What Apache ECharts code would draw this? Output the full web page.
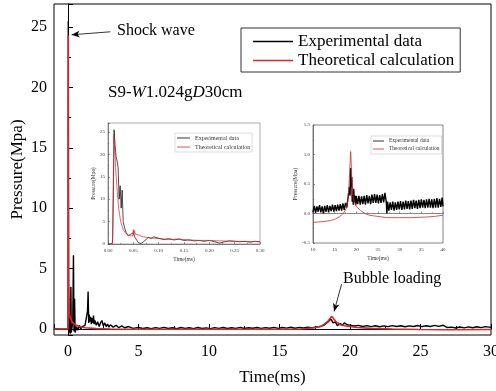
<!DOCTYPE html>
<html>
<head>
<meta charset="utf-8">
<script src="https://cdn.jsdelivr.net/npm/echarts@6/dist/echarts.min.js"></script>
<style>
  html, body { margin: 0; padding: 0; background: #fff; }
  #chart { width: 496px; height: 391px; }
</style>
</head>
<body>
<div id="chart"></div>
<script>
const seriesNames = ["Experimental data", "Theoretical calculation"];

// main plot, 0 - 30 ms
const expMain = [
  [-1, 0.02], [-0.5, -0.02], [0, 0], [0.008, 0.1], [0.012, 25.5], [0.018, 18], [0.025, 12],
  [0.035, 3], [0.05, 2], [0.065, -0.3], [0.1, 0.8], [0.15, -0.4], [0.2, 3.5], [0.22, -0.3],
  [0.28, -0.4], [0.33, 0.5], [0.38, 6.1], [0.42, -0.2], [0.46, 2.5], [0.5, -0.3], [0.6, 0.2],
  [0.7, -0.1], [0.8, 0.3], [0.9, 0.0], [1.0, 0.2], [1.1, 0.1], [1.2, 0.3], [1.3, 0.2],
  [1.38, 1.5], [1.42, 3.1], [1.46, 0.5], [1.5, 1.2], [1.55, 0.6], [1.6, 1.0], [1.65, 0.4],
  [1.7, 0.9], [1.75, 0.5], [1.8, 1.1], [1.85, 0.4], [1.9, 0.7], [2.0, 0.3], [2.1, 0.6],
  [2.2, 0.2], [2.3, 0.5], [2.4, 0.7], [2.5, 0.25], [2.6, 0.5], [2.7, 0.2], [2.8, 0.4],
  [2.9, 0.15], [3.0, 0.35], [3.2, 0.15], [3.4, 0.3], [3.6, 0.1], [3.8, 0.25], [4.0, 0.1],
  [4.3, 0.2], [4.6, 0.05], [5.0, 0.12], [5.3, 0.04], [5.6, 0.1], [5.9, 0.03], [6.2, 0.11],
  [6.5, 0.05], [6.8, 0.13], [7.1, 0.04], [7.4, 0.1], [7.7, 0.02], [8.0, 0.12], [8.3, 0.05],
  [8.6, 0.1], [8.9, 0.03], [9.2, 0.12], [9.5, 0.04], [9.8, 0.09], [10.1, 0.03], [10.4, 0.11],
  [10.7, 0.05], [11.0, 0.12], [11.3, 0.04], [11.6, 0.1], [11.9, 0.05], [12.2, 0.13],
  [12.5, 0.04], [12.8, 0.1], [13.1, 0.06], [13.4, 0.12], [13.7, 0.05], [14.0, 0.11],
  [14.3, 0.06], [14.6, 0.13], [14.9, 0.05], [15.2, 0.12], [15.5, 0.07], [15.8, 0.14],
  [16.1, 0.06], [16.4, 0.13], [16.7, 0.08], [17.0, 0.15], [17.3, 0.09], [17.6, 0.16],
  [17.9, 0.2], [18.2, 0.35], [18.45, 0.6], [18.65, 0.82], [18.8, 0.5], [18.95, 0.58],
  [19.1, 0.28], [19.3, 0.45], [19.45, 0.32], [19.6, 0.5], [19.8, 0.35], [20.0, 0.32],
  [20.3, 0.25], [20.6, 0.3], [20.9, 0.2], [21.2, 0.28], [21.5, 0.19], [21.8, 0.27],
  [22.1, 0.18], [22.4, 0.26], [22.7, 0.19], [23.0, 0.28], [23.3, 0.2], [23.6, 0.27],
  [23.9, 0.18], [24.2, 0.26], [24.5, 0.2], [24.8, 0.29], [25.1, 0.19], [25.4, 0.27],
  [25.7, 0.2], [26.0, 0.3], [26.3, 0.21], [26.6, 0.31], [26.9, 0.12], [27.0, 0.02],
  [27.2, 0.15], [27.5, 0.08], [27.8, 0.16], [28.1, 0.09], [28.4, 0.17], [28.7, 0.1],
  [29.0, 0.18], [29.3, 0.11], [29.6, 0.19], [30, 0.13]
];
const theoMain = [
  [-1, 0], [0, 0], [0.008, 0], [0.012, 24.3], [0.02, 10], [0.03, 5.2], [0.04, 2.8],
  [0.05, 2.7], [0.052, 3.5], [0.055, 2.4], [0.07, 1.6], [0.1, 1.2], [0.15, 1.0], [0.2, 0.8],
  [0.3, 0.55], [0.5, 0.35], [0.8, 0.2], [1.2, 0.1], [2, 0.03], [3, 0], [5, -0.02],
  [8, -0.03], [12, -0.03], [15, -0.02], [16.5, 0.0], [17.5, 0.1], [18.0, 0.25], [18.4, 0.6],
  [18.7, 1.05], [19.0, 0.6], [19.3, 0.35], [19.8, 0.22], [20.5, 0.12], [21.5, 0.05],
  [23, 0.0], [25, -0.05], [27, -0.07], [30, -0.05]
];

// inset 1, 0 - 0.30 ms
const expEarly = [
  [0, 0], [0.005, 0], [0.009, 0.3], [0.0105, 10], [0.012, 25.5], [0.014, 22], [0.016, 19.5],
  [0.018, 18.5], [0.02, 17], [0.022, 10], [0.024, 13], [0.026, 8], [0.028, 12], [0.03, 5],
  [0.033, 3.5], [0.036, 2.5], [0.04, 1.8], [0.045, 2.2], [0.05, 2.5], [0.053, 1.5],
  [0.057, 0.8], [0.06, 0.3], [0.065, 0.1], [0.07, 0.5], [0.075, 1.0], [0.08, 1.5],
  [0.085, 1.2], [0.09, 1.6], [0.1, 1.3], [0.11, 1.0], [0.12, 1.2], [0.13, 0.9], [0.14, 1.1],
  [0.15, 0.8], [0.16, 0.9], [0.17, 0.7], [0.18, 0.8], [0.19, 0.6], [0.2, 0.8], [0.21, 0.5],
  [0.22, 0.2], [0.23, 0.5], [0.24, 0.7], [0.25, 0.6], [0.26, 0.5], [0.27, 0.6], [0.28, 0.4],
  [0.29, 0.6], [0.3, 0.5]
];
const theoEarly = [
  [0, 0], [0.009, 0], [0.0115, 24.5], [0.013, 22], [0.015, 17], [0.018, 12], [0.021, 8],
  [0.025, 5], [0.03, 3.2], [0.035, 2.4], [0.04, 2.0], [0.045, 1.8], [0.049, 1.8], [0.05, 3.2],
  [0.051, 2.0], [0.052, 3.0], [0.054, 2.2], [0.06, 2.0], [0.07, 1.6], [0.08, 1.4], [0.09, 1.3],
  [0.1, 1.2], [0.12, 1.0], [0.14, 1.1], [0.16, 0.9], [0.18, 0.8], [0.2, 0.8], [0.22, 0.7],
  [0.25, 0.6], [0.28, 0.55], [0.3, 0.5]
];

// inset 2, 10 - 40 ms
const expBubble = [
  [10.0, 0.02], [10.3, 0.13], [10.6, 0.01], [10.9, 0.12], [11.2, 0.03], [11.5, 0.14],
  [11.8, 0.02], [12.1, 0.12], [12.4, 0.0], [12.7, 0.13], [13.0, 0.03], [13.3, 0.14],
  [13.6, 0.02], [13.9, 0.13], [14.2, 0.04], [14.5, 0.15], [14.8, 0.03], [15.1, 0.14],
  [15.4, 0.04], [15.7, 0.15], [16.0, 0.05], [16.3, 0.16], [16.6, 0.05], [16.9, 0.17],
  [17.2, 0.06], [17.5, 0.18], [17.8, 0.1], [18.0, 0.22], [18.2, 0.2], [18.4, 0.45],
  [18.55, 0.3], [18.7, 0.77], [18.85, 0.45], [18.95, 0.62], [19.05, 0.2], [19.2, 0.38],
  [19.3, 0.15], [19.4, 0.42], [19.55, 0.2], [19.7, 0.3], [19.85, 0.14], [20.0, 0.3],
  [20.3, 0.16], [20.6, 0.3], [20.9, 0.15], [21.2, 0.29], [21.5, 0.16], [21.8, 0.3],
  [22.1, 0.15], [22.4, 0.31], [22.7, 0.17], [23.0, 0.3], [23.3, 0.16], [23.6, 0.32],
  [23.9, 0.18], [24.2, 0.33], [24.5, 0.18], [24.8, 0.32], [25.1, 0.17], [25.4, 0.31],
  [25.7, 0.18], [26.0, 0.33], [26.3, 0.19], [26.6, 0.35], [26.9, 0.2], [27.05, 0.0],
  [27.2, 0.2], [27.5, 0.05], [27.8, 0.19], [28.1, 0.06], [28.4, 0.2], [28.7, 0.05],
  [29.0, 0.19], [29.3, 0.06], [29.6, 0.2], [29.9, 0.07], [30.2, 0.21], [30.5, 0.06],
  [30.8, 0.2], [31.1, 0.07], [31.4, 0.22], [31.7, 0.08], [32.0, 0.21], [32.3, 0.07],
  [32.6, 0.22], [32.9, 0.08], [33.2, 0.23], [33.5, 0.09], [33.8, 0.22], [34.1, 0.08],
  [34.4, 0.23], [34.7, 0.09], [35.0, 0.24], [35.3, 0.1], [35.6, 0.23], [35.9, 0.09],
  [36.2, 0.24], [36.5, 0.1], [36.8, 0.25], [37.1, 0.1], [37.4, 0.24], [37.7, 0.09],
  [38.0, 0.25], [38.3, 0.1], [38.6, 0.26], [38.9, 0.1], [39.2, 0.25], [39.5, 0.11],
  [39.8, 0.27], [40.0, 0.12]
];
const theoBubble = [
  [10, -0.15], [12, -0.14], [14, -0.12], [15, -0.1], [16, -0.06], [17, 0.0], [17.6, 0.08],
  [18.0, 0.2], [18.3, 0.45], [18.55, 0.85], [18.7, 1.05], [18.85, 0.8], [19.0, 0.5],
  [19.2, 0.3], [19.5, 0.2], [20, 0.12], [21, 0.05], [22, 0.0], [23, -0.03], [25, -0.05],
  [27, -0.07], [30, -0.07], [33, -0.07], [36, -0.06], [38, -0.05], [40, -0.03]
];

const serif = '"Liberation Serif", "Times New Roman", serif';
const black = "#000";
const red = "#e3232b";

function insetAxis(grid, min, max, interval, digits, name, nameGap, isY) {
  return {
    type: "value",
    gridIndex: grid,
    min: min,
    max: max,
    interval: interval,
    name: name,
    nameLocation: "middle",
    nameGap: nameGap,
    nameTextStyle: { fontFamily: serif, fontSize: 5.5, color: "#333" },
    axisLine: { lineStyle: { color: "#555", width: 0.7 } },
    axisTick: { inside: true, length: 2, lineStyle: { color: "#555", width: 0.6 } },
    minorTick: { show: true, splitNumber: 2, length: 1.2, lineStyle: { color: "#555", width: 0.5 } },
    splitLine: { show: false },
    axisLabel: {
      fontFamily: serif,
      fontSize: 5,
      color: "#333",
      margin: isY ? 3 : 4,
      showMaxLabel: isY ? interval * Math.round(max / interval) === max : true,
      formatter: (v) => v.toFixed(digits),
    },
  };
}

const chartDom = echarts.init(document.getElementById("chart"));
chartDom.setOption({
  animation: false,
  grid: [
    { left: 54, top: 4, right: 5, bottom: 56, outerBoundsMode: "none", show: true, borderColor: black, borderWidth: 1 },
    { left: 108, top: 123, width: 152, height: 121, outerBoundsMode: "none", show: true, borderColor: "#888", borderWidth: 0.7, backgroundColor: "#fff" },
    { left: 313, top: 125, width: 130, height: 118, outerBoundsMode: "none", show: true, borderColor: "#666", borderWidth: 0.8, backgroundColor: "#fff" },
  ],
  legend: [
    {
      data: seriesNames,
      orient: "vertical",
      left: 241,
      top: 28,
      icon: "rect",
      itemWidth: 40,
      itemHeight: 1.5,
      itemGap: 2,
      padding: [5, 6, 3, 12],
      borderColor: "#333",
      borderWidth: 1,
      textStyle: { fontFamily: serif, fontSize: 17, color: black },
    },
    {
      data: seriesNames,
      orient: "vertical",
      left: 175,
      top: 133,
      icon: "rect",
      itemWidth: 13,
      itemHeight: 0.8,
      itemGap: 3,
      padding: [2, 2, 2, 2],
      borderColor: "#bbb",
      borderWidth: 0.5,
      textStyle: { fontFamily: serif, fontSize: 6, color: "#333" },
    },
    {
      data: seriesNames,
      orient: "vertical",
      left: 371,
      top: 136,
      icon: "rect",
      itemWidth: 11,
      itemHeight: 0.8,
      itemGap: 2,
      padding: [2, 2, 2, 2],
      borderColor: "#bbb",
      borderWidth: 0.5,
      textStyle: { fontFamily: serif, fontSize: 5.5, color: "#333" },
    },
  ],
  xAxis: [
    {
      type: "value",
      gridIndex: 0,
      min: -1,
      max: 30,
      name: "Time(ms)",
      nameLocation: "middle",
      nameGap: 34,
      nameTextStyle: { fontFamily: serif, fontSize: 17, color: black },
      axisLine: { lineStyle: { color: black, width: 1 } },
      axisTick: { inside: true, length: 5, lineStyle: { color: black } },
      minorTick: { show: true, splitNumber: 2, length: 3, lineStyle: { color: black } },
      splitLine: { show: false },
      axisLabel: { fontFamily: serif, fontSize: 16, color: black, margin: 9, showMinLabel: false },
    },
    insetAxis(1, 0, 0.3, 0.05, 2, "Time(ms)", 13, false),
    insetAxis(2, 10, 40, 5, 0, "Time(ms)", 13, false),
  ],
  yAxis: [
    {
      type: "value",
      gridIndex: 0,
      min: -0.5,
      max: 26.9,
      name: "Pressure(Mpa)",
      nameLocation: "middle",
      nameGap: 28,
      nameMoveOverlap: false,
      nameTextStyle: { fontFamily: serif, fontSize: 17, color: black },
      axisLine: { lineStyle: { color: black, width: 1 } },
      axisTick: { inside: true, length: 5, lineStyle: { color: black } },
      minorTick: { show: true, splitNumber: 2, length: 3, lineStyle: { color: black } },
      splitLine: { show: false },
      axisLabel: { fontFamily: serif, fontSize: 16, color: black, margin: 7, showMinLabel: false, showMaxLabel: false },
    },
    insetAxis(1, 0, 27, 5, 0, "Pressure(Mpa)", 10, true),
    insetAxis(2, -0.5, 1.5, 0.5, 1, "Pressure(Mpa)", 14, true),
  ],
  series: [
    {
      name: seriesNames[0],
      type: "line",
      xAxisIndex: 0,
      yAxisIndex: 0,
      data: expMain,
      symbol: "none",
      itemStyle: { color: black },
      lineStyle: { color: black, width: 1.4 },
    },
    {
      name: seriesNames[1],
      type: "line",
      xAxisIndex: 0,
      yAxisIndex: 0,
      data: theoMain,
      symbol: "none",
      itemStyle: { color: red },
      lineStyle: { color: red, width: 1.6 },
      markLine: {
        silent: true,
        symbol: ["none", "arrow"],
        symbolSize: [5, 8],
        label: { show: false },
        lineStyle: { color: black, width: 0.8, type: "solid" },
        data: [
          [{ coord: [3.0, 24.6] }, { coord: [0.25, 24.35] }],
          [{ coord: [19.4, 3.7] }, { coord: [18.87, 1.45] }],
        ],
      },
    },
    {
      name: seriesNames[0],
      type: "line",
      xAxisIndex: 1,
      yAxisIndex: 1,
      data: expEarly,
      symbol: "none",
      itemStyle: { color: black },
      lineStyle: { color: black, width: 0.7 },
    },
    {
      name: seriesNames[1],
      type: "line",
      xAxisIndex: 1,
      yAxisIndex: 1,
      data: theoEarly,
      symbol: "none",
      itemStyle: { color: red },
      lineStyle: { color: red, width: 0.7 },
    },
    {
      name: seriesNames[0],
      type: "line",
      xAxisIndex: 2,
      yAxisIndex: 2,
      data: expBubble,
      symbol: "none",
      itemStyle: { color: black },
      lineStyle: { color: black, width: 1.4 },
    },
    {
      name: seriesNames[1],
      type: "line",
      xAxisIndex: 2,
      yAxisIndex: 2,
      data: theoBubble,
      symbol: "none",
      itemStyle: { color: red },
      lineStyle: { color: red, width: 0.8 },
    },
  ],
  graphic: [
    {
      type: "text",
      left: 117,
      top: 23,
      style: { text: "Shock wave", fontFamily: serif, fontSize: 16, fill: black },
    },
    {
      type: "text",
      left: 108,
      top: 84,
      style: {
        text: "S9-{i|W}1.024g{i|D}30cm",
        fontFamily: serif,
        fontSize: 17,
        fill: black,
        rich: { i: { fontFamily: serif, fontSize: 17, fontStyle: "italic", fill: black } },
      },
    },
    {
      type: "text",
      left: 343,
      top: 271,
      style: { text: "Bubble loading", fontFamily: serif, fontSize: 16, fill: black },
    },
  ],
});
</script>
</body>
</html>
